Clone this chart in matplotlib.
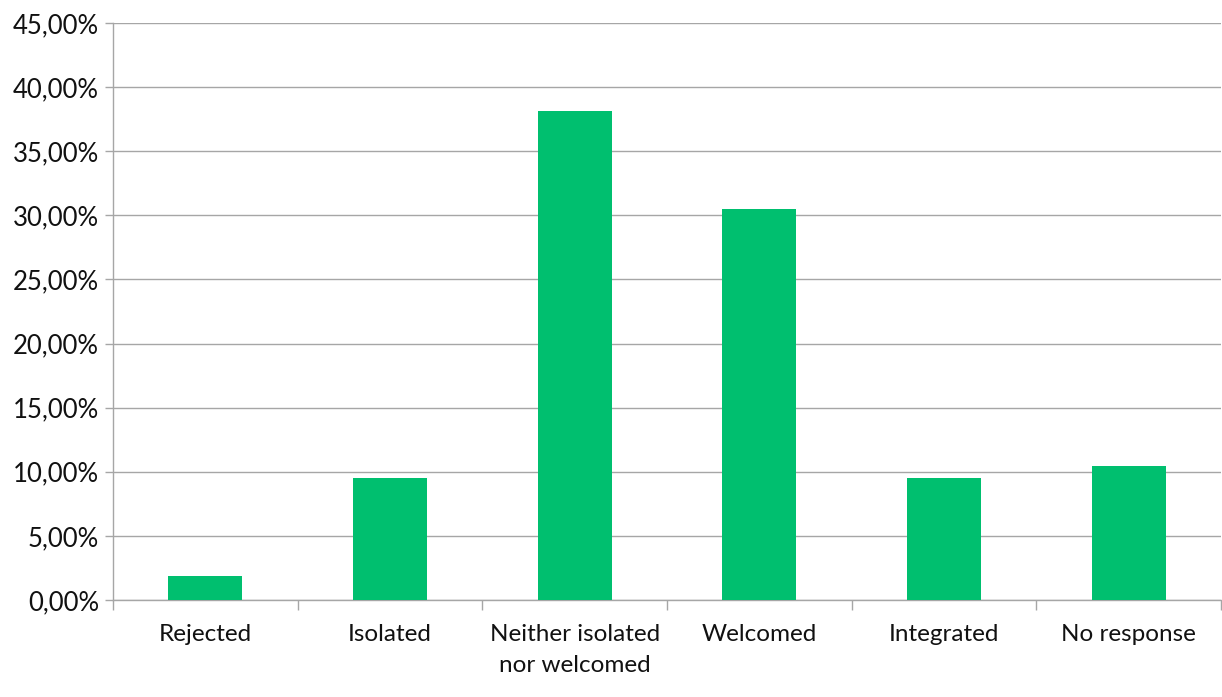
import matplotlib
matplotlib.use('Agg')
from matplotlib import pyplot as plt
from matplotlib.ticker import FuncFormatter, MultipleLocator
import numpy as np

categories = ['Rejected', 'Isolated', 'Neither isolated\nnor welcomed',
              'Welcomed', 'Integrated', 'No response']
shares = [1.90, 9.52, 38.10, 30.48, 9.52, 10.48]

plt.rcParams['font.family'] = ['Lato', 'DejaVu Sans']

fig = plt.figure(figsize=(12.22, 6.97), dpi=100)
ax = fig.add_axes([113 / 1222, 1 - 600 / 697, 1108 / 1222, 577 / 697])

x = np.arange(len(categories))
ax.bar(x, shares, width=0.4, color='#00BF6F', zorder=3)

ax.set_xlim(-0.5, len(categories) - 0.5)
ax.set_ylim(0, 45)
ax.yaxis.set_major_locator(MultipleLocator(5))
ax.yaxis.set_major_formatter(FuncFormatter(lambda v, p: f'{v:.2f}%'.replace('.', ',')))
ax.grid(axis='y', color='#A6A6A6', linewidth=1.0, zorder=0)

for side in ['top', 'right']:
    ax.spines[side].set_visible(False)
for side in ['left', 'bottom']:
    ax.spines[side].set_color('#A6A6A6')
    ax.spines[side].set_linewidth(1.0)

# category labels sit centred; tick marks go between the categories
ax.set_xticks(x)
ax.set_xticklabels(categories, fontsize=17.5, color='#111111', linespacing=1.6)
ax.tick_params(axis='x', which='major', length=0, pad=17)
ax.set_xticks(np.arange(-0.5, len(categories)), minor=True)
ax.tick_params(axis='x', which='minor', length=7, color='#A6A6A6', width=1.0)
ax.tick_params(axis='y', length=6, color='#A6A6A6', width=1.0,
               labelsize=18.5, labelcolor='#111111', pad=4)

fig.savefig('out.png', dpi=100)
